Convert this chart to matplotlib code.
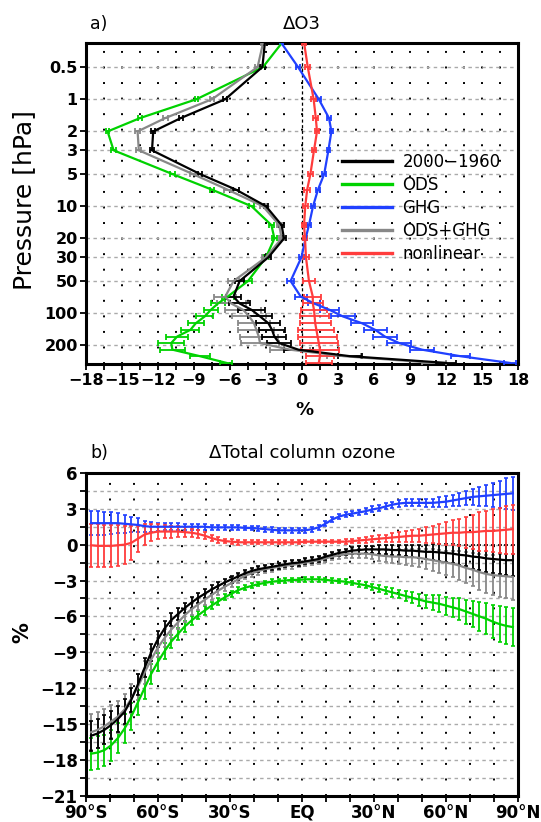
import numpy as np
import matplotlib
matplotlib.use("Agg")
import matplotlib.pyplot as plt
from matplotlib.ticker import FixedLocator, MultipleLocator, NullLocator, FixedFormatter

# ---------------- Panel a data ----------------
P_LEV = [0.3, 0.5, 1, 1.5, 2, 3, 5, 7, 10, 15, 20, 30, 50, 70, 81, 93, 107, 124, 143, 165, 190, 219, 252, 291]

BLACK_A = [-3.1, -3.3, -6.4, -10.1, -12.4, -12.5, -8.5, -5.5, -3.0, -1.7, -1.5, -2.8, -5.2, -5.7, -5.2, -4.2, -3.5, -2.8, -2.5, -2.3, -1.9, -0.3, 4.0, 12.0]
GREEN_A = [-1.7, -3.25, -8.8, -13.5, -16.2, -15.7, -10.8, -7.5, -4.2, -2.55, -2.3, -3.0, -4.5, -6.2, -7.0, -7.6, -8.1, -8.85, -9.3, -10.4, -10.9, -10.8, -8.5, -6.3]
BLUE_A = [-1.7, -0.33, 1.4, 2.25, 2.45, 2.2, 1.85, 1.33, 0.92, 0.58, 0.3, -0.05, -0.95, -0.1, 1.0, 2.3, 3.4, 5.0, 6.1, 6.9, 8.1, 10.0, 13.2, 17.3]
GRAY_A = [-3.25, -3.7, -7.5, -11.4, -13.7, -13.6, -9.1, -6.2, -3.25, -1.9, -1.7, -3.0, -5.7, -6.4, -5.9, -4.9, -4.4, -4.0, -3.8, -3.6, -3.5, -1.0, 3.5, 11.0]
RED_A = [0.18, 0.48, 0.97, 1.15, 1.25, 1.0, 0.7, 0.43, 0.27, 0.17, 0.25, 0.33, 0.58, 0.9, 0.9, 1.0, 1.05, 1.1, 1.2, 1.3, 1.4, 1.5, 1.5, 1.4]

BLACK_A_ERR = [0.15, 0.2, 0.15, 0.15, 0.15, 0.15, 0.2, 0.25, 0.2, 0.2, 0.2, 0.25, 0.35, 0.6, 0.9, 1.1, 1.0, 1.0, 1.1, 1.0, 1.0, 1.2, 1.0, 0.8]
GREEN_A_ERR = [0.1, 0.15, 0.15, 0.15, 0.15, 0.2, 0.2, 0.2, 0.2, 0.2, 0.2, 0.25, 0.3, 0.5, 0.6, 0.6, 0.7, 0.65, 0.75, 0.9, 1.1, 1.05, 0.85, 0.5]
BLUE_A_ERR = [0.1, 0.15, 0.15, 0.15, 0.15, 0.15, 0.15, 0.15, 0.15, 0.15, 0.15, 0.2, 0.3, 0.5, 0.5, 0.8, 1.0, 0.9, 0.95, 1.0, 1.0, 1.0, 0.8, 0.5]
GRAY_A_ERR = [0.15, 0.25, 0.2, 0.2, 0.2, 0.2, 0.25, 0.3, 0.25, 0.2, 0.2, 0.3, 0.45, 0.9, 1.2, 1.5, 1.4, 1.3, 1.5, 1.6, 1.6, 1.7, 1.4, 1.0]
RED_A_ERR = [0.15, 0.2, 0.2, 0.2, 0.2, 0.2, 0.2, 0.25, 0.2, 0.2, 0.2, 0.25, 0.5, 0.7, 0.85, 1.1, 1.2, 1.3, 1.5, 1.6, 1.6, 1.6, 1.2, 1.1]

P_TICKS = [0.5, 1, 2, 3, 5, 10, 20, 30, 50, 100, 200]
P_TICKLABELS = ["0.5", "1", "2", "3", "5", "10", "20", "30", "50", "100", "200"]
X_TICKS_A = [-18, -15, -12, -9, -6, -3, 0, 3, 6, 9, 12, 15, 18]

SERIES_NAMES = ["2000\u22121960", "ODS", "GHG", "ODS+GHG", "nonlinear"]

# ---------------- Panel b data ----------------
LAT_NH = [1.40, 4.19, 6.98, 9.77, 12.56, 15.35, 18.14, 20.93, 23.72, 26.51, 29.30, 32.09,
          34.88, 37.67, 40.46, 43.25, 46.04, 48.84, 51.63, 54.42, 57.21, 60.00, 62.79,
          65.58, 68.37, 71.16, 73.95, 76.74, 79.53, 82.31, 85.10, 87.86]
LAT = [-v for v in reversed(LAT_NH)] + LAT_NH

BLACK_B = [-16.0, -15.8, -15.5, -15.1, -14.6, -14.0, -13.0, -11.7, -10.3, -9.0, -7.9, -7.0, -6.3, -5.8, -5.3, -4.85,
           -4.45, -4.1, -3.75, -3.45, -3.15, -2.9, -2.65, -2.4, -2.2, -2.05, -1.95, -1.85, -1.75, -1.65, -1.55, -1.5,
           -1.4, -1.3, -1.2, -1.0, -0.85, -0.7, -0.6, -0.5, -0.45, -0.4, -0.4, -0.4, -0.4, -0.45, -0.45, -0.5,
           -0.5, -0.55, -0.6, -0.6, -0.65, -0.7, -0.75, -0.85, -0.9, -1.0, -1.05, -1.15, -1.2, -1.25, -1.3, -1.3]
GREEN_B = [-17.5, -17.4, -17.2, -16.8, -16.2, -15.4, -14.4, -13.2, -12.0, -10.8, -9.8, -8.9, -8.1, -7.45, -6.85, -6.35,
           -5.9, -5.5, -5.1, -4.75, -4.4, -4.1, -3.8, -3.6, -3.45, -3.3, -3.2, -3.1, -3.05, -3.0, -2.95, -2.95,
           -2.9, -2.9, -2.9, -2.95, -3.0, -3.05, -3.1, -3.2, -3.3, -3.4, -3.55, -3.7, -3.85, -4.0, -4.15, -4.3,
           -4.45, -4.6, -4.75, -4.85, -4.95, -5.1, -5.25, -5.4, -5.6, -5.8, -6.0, -6.2, -6.45, -6.65, -6.8, -6.9]
BLUE_B = [1.8, 1.8, 1.8, 1.8, 1.8, 1.75, 1.7, 1.65, 1.55, 1.5, 1.5, 1.5, 1.5, 1.5, 1.5, 1.5,
          1.5, 1.5, 1.45, 1.45, 1.45, 1.45, 1.45, 1.4, 1.4, 1.35, 1.3, 1.25, 1.2, 1.2, 1.2, 1.2,
          1.2, 1.3, 1.45, 1.75, 2.1, 2.35, 2.5, 2.6, 2.7, 2.8, 2.95, 3.05, 3.2, 3.35, 3.45, 3.5,
          3.5, 3.5, 3.5, 3.5, 3.55, 3.6, 3.7, 3.8, 3.9, 4.0, 4.05, 4.1, 4.15, 4.2, 4.25, 4.3]
GRAY_B = [-15.7, -15.5, -15.2, -14.8, -14.4, -13.8, -12.9, -11.9, -10.7, -9.6, -8.6, -7.8, -7.1, -6.5, -5.9, -5.4,
          -5.0, -4.6, -4.2, -3.85, -3.5, -3.2, -2.9, -2.6, -2.4, -2.2, -2.05, -1.95, -1.85, -1.75, -1.7, -1.6,
          -1.5, -1.4, -1.3, -1.15, -1.0, -0.9, -0.8, -0.75, -0.75, -0.75, -0.8, -0.9, -0.95, -1.0, -1.0, -1.05,
          -1.05, -1.1, -1.2, -1.3, -1.4, -1.5, -1.6, -1.75, -1.95, -2.1, -2.3, -2.45, -2.55, -2.6, -2.65, -2.7]
RED_B = [-0.05, -0.1, -0.1, -0.1, -0.05, 0.0, 0.15, 0.5, 0.85, 1.0, 1.1, 1.1, 1.1, 1.1, 1.05, 1.0,
         0.9, 0.75, 0.55, 0.4, 0.3, 0.25, 0.2, 0.2, 0.2, 0.2, 0.2, 0.2, 0.2, 0.2, 0.2, 0.2,
         0.25, 0.25, 0.25, 0.25, 0.25, 0.25, 0.25, 0.3, 0.35, 0.4, 0.45, 0.5, 0.55, 0.6, 0.65, 0.7,
         0.75, 0.75, 0.8, 0.85, 0.9, 0.95, 1.0, 1.0, 1.05, 1.05, 1.1, 1.15, 1.15, 1.2, 1.25, 1.3]

BLACK_B_ERR = [1.25, 1.2, 1.2, 1.15, 1.1, 1.05, 1.0, 0.9, 0.8, 0.7, 0.65, 0.6, 0.55, 0.5, 0.45, 0.45,
               0.4, 0.4, 0.35, 0.35, 0.3, 0.3, 0.3, 0.3, 0.25, 0.25, 0.25, 0.25, 0.25, 0.25, 0.25, 0.25,
               0.25, 0.25, 0.25, 0.25, 0.25, 0.25, 0.25, 0.3, 0.3, 0.3, 0.3, 0.35, 0.35, 0.4, 0.4, 0.45,
               0.5, 0.55, 0.6, 0.65, 0.7, 0.75, 0.8, 0.85, 0.9, 1.0, 1.05, 1.1, 1.15, 1.2, 1.25, 1.3]
GREEN_B_ERR = [1.35, 1.35, 1.3, 1.3, 1.25, 1.2, 1.15, 1.05, 0.95, 0.85, 0.75, 0.65, 0.55, 0.5, 0.45, 0.4,
               0.35, 0.35, 0.3, 0.3, 0.25, 0.25, 0.25, 0.2, 0.2, 0.2, 0.2, 0.2, 0.2, 0.2, 0.2, 0.2,
               0.2, 0.2, 0.2, 0.2, 0.2, 0.2, 0.2, 0.2, 0.25, 0.25, 0.25, 0.3, 0.3, 0.35, 0.35, 0.4,
               0.45, 0.5, 0.55, 0.6, 0.7, 0.75, 0.8, 0.9, 1.0, 1.1, 1.2, 1.3, 1.4, 1.5, 1.55, 1.6]
BLUE_B_ERR = [1.0, 1.0, 0.95, 0.9, 0.85, 0.75, 0.65, 0.55, 0.45, 0.4, 0.35, 0.3, 0.3, 0.3, 0.25, 0.25,
              0.25, 0.25, 0.2, 0.2, 0.2, 0.2, 0.2, 0.2, 0.2, 0.2, 0.2, 0.2, 0.2, 0.2, 0.2, 0.2,
              0.2, 0.2, 0.2, 0.2, 0.2, 0.2, 0.2, 0.2, 0.2, 0.25, 0.25, 0.25, 0.25, 0.25, 0.3, 0.3,
              0.3, 0.3, 0.35, 0.35, 0.4, 0.45, 0.5, 0.55, 0.6, 0.7, 0.8, 0.9, 1.0, 1.15, 1.3, 1.4]
GRAY_B_ERR = [1.5, 1.5, 1.45, 1.4, 1.35, 1.3, 1.2, 1.1, 1.0, 0.9, 0.8, 0.75, 0.7, 0.6, 0.55, 0.5,
              0.5, 0.45, 0.45, 0.4, 0.4, 0.35, 0.35, 0.3, 0.3, 0.3, 0.3, 0.3, 0.3, 0.3, 0.3, 0.3,
              0.3, 0.3, 0.3, 0.3, 0.3, 0.3, 0.3, 0.35, 0.35, 0.4, 0.4, 0.45, 0.5, 0.55, 0.6, 0.65,
              0.7, 0.75, 0.8, 0.9, 0.95, 1.0, 1.1, 1.2, 1.3, 1.4, 1.5, 1.6, 1.7, 1.8, 1.85, 1.9]
RED_B_ERR = [1.8, 1.8, 1.75, 1.75, 1.7, 1.6, 1.4, 1.1, 0.85, 0.7, 0.6, 0.55, 0.5, 0.45, 0.4, 0.35,
             0.3, 0.3, 0.25, 0.25, 0.2, 0.2, 0.2, 0.15, 0.15, 0.15, 0.15, 0.15, 0.15, 0.15, 0.15, 0.15,
             0.15, 0.15, 0.15, 0.15, 0.15, 0.15, 0.2, 0.2, 0.2, 0.25, 0.25, 0.3, 0.3, 0.35, 0.4, 0.45,
             0.5, 0.55, 0.65, 0.75, 0.85, 0.95, 1.05, 1.15, 1.3, 1.45, 1.6, 1.7, 1.8, 1.9, 2.0, 2.05]

LAT_TICKS = [-90, -60, -30, 0, 30, 60, 90]
LAT_TICKLABELS = ["90\u00b0S", "60\u00b0S", "30\u00b0S", "EQ", "30\u00b0N", "60\u00b0N", "90\u00b0N"]
Y_TICKS_B = [6, 3, 0, -3, -6, -9, -12, -15, -18, -21]

# ---------------- Style ----------------
C_BLACK = "#000000"
C_GREEN = "#00d200"
C_BLUE = "#2040ff"
C_GRAY = "#888888"
C_RED = "#ff3c3c"

plt.rcParams["font.family"] = ["DejaVu Sans"]
W, H = 541, 822
fig = plt.figure(figsize=(W / 100, H / 100), dpi=100)


def fx(px):
    return px / W


def fy(py):
    return 1 - py / H


# ---------------- Panel a ----------------
ax1 = fig.add_axes([fx(86), fy(364.3), fx(432), 321 / H])
ax1.set_yscale("log")
ax1.set_ylim(300, 0.3)
ax1.set_xlim(-18, 18)

ax1.yaxis.set_major_locator(FixedLocator(P_TICKS))
ax1.yaxis.set_major_formatter(FixedFormatter(P_TICKLABELS))
ax1.yaxis.set_minor_locator(NullLocator())
ax1.xaxis.set_major_locator(FixedLocator(X_TICKS_A))
ax1.xaxis.set_minor_locator(MultipleLocator(1.5))

ax1.yaxis.grid(True, which="major", color="#aaaaaa", linestyle=(0, (2.5, 2.5)), linewidth=1.0)
ax1.xaxis.grid(True, which="both", color="black", linestyle=(0, (1, 7)), linewidth=1.4)
ax1.set_axisbelow(True)
ax1.axvline(0, color="black", linestyle=(0, (2.5, 2)), linewidth=0.9, zorder=1)

series_a = [
    (GREEN_A, GREEN_A_ERR, C_GREEN, SERIES_NAMES[1]),
    (GRAY_A, GRAY_A_ERR, C_GRAY, SERIES_NAMES[3]),
    (BLACK_A, BLACK_A_ERR, C_BLACK, SERIES_NAMES[0]),
    (BLUE_A, BLUE_A_ERR, C_BLUE, SERIES_NAMES[2]),
    (RED_A, RED_A_ERR, C_RED, SERIES_NAMES[4]),
]
handles = {}
for vals, errs, col, name in series_a:
    ax1.errorbar(vals, P_LEV, xerr=errs, color=col, linewidth=1.6, elinewidth=1.3,
                 capsize=2.5, capthick=1.3, zorder=3)
    handles[name] = plt.Line2D([], [], color=col, linewidth=2.4)

ax1.legend([handles[n] for n in SERIES_NAMES], SERIES_NAMES, loc="upper left",
           bbox_to_anchor=(0.578, 0.68), frameon=False, fontsize=12,
           handlelength=3.0, handletextpad=0.6, labelspacing=0.3, borderaxespad=0)

for sp in ax1.spines.values():
    sp.set_linewidth(2.2)
ax1.tick_params(axis="both", which="major", direction="out", length=4, width=1.3, pad=2)
ax1.tick_params(axis="x", which="minor", direction="out", length=4, width=1.3)
for lab in ax1.get_xticklabels() + ax1.get_yticklabels():
    lab.set_fontweight("bold")
    lab.set_fontsize(11.5)

fig.text(fx(99), fy(24), "a)", ha="center", va="center", fontsize=12.5)
fig.text(fx(302), fy(24), "\u0394O3", ha="center", va="center", fontsize=13)
fig.text(fx(304), fy(410), "%", ha="center", va="center", fontsize=13, fontweight="bold")
fig.text(fx(24), fy(200), "Pressure [hPa]", ha="center", va="center", rotation=90, fontsize=18)

# ---------------- Panel b ----------------
ax2 = fig.add_axes([fx(86), fy(795.5), fx(432), (795.5 - 473) / H])
ax2.set_xlim(-90, 90)
ax2.set_ylim(-21, 6)
ax2.xaxis.set_major_locator(FixedLocator(LAT_TICKS))
ax2.xaxis.set_major_formatter(FixedFormatter(LAT_TICKLABELS))
ax2.xaxis.set_minor_locator(MultipleLocator(10))
ax2.yaxis.set_major_locator(FixedLocator(Y_TICKS_B))
ax2.yaxis.set_minor_locator(MultipleLocator(1.5))

ax2.yaxis.grid(True, which="both", color="#aaaaaa", linestyle=(0, (2.5, 2.5)), linewidth=1.0)
ax2.xaxis.grid(True, which="both", color="black", linestyle=(0, (1, 7)), linewidth=1.4)
ax2.set_axisbelow(True)

series_b = [
    (GREEN_B, GREEN_B_ERR, C_GREEN),
    (GRAY_B, GRAY_B_ERR, C_GRAY),
    (BLACK_B, BLACK_B_ERR, C_BLACK),
    (BLUE_B, BLUE_B_ERR, C_BLUE),
    (RED_B, RED_B_ERR, C_RED),
]
for vals, errs, col in series_b:
    ax2.errorbar(LAT, vals, yerr=errs, color=col, linewidth=1.6, elinewidth=1.3,
                 capsize=1.5, capthick=1.2, zorder=3)

for sp in ax2.spines.values():
    sp.set_linewidth(2.2)
ax2.tick_params(axis="both", which="major", direction="out", length=4, width=1.3, pad=2)
ax2.tick_params(axis="both", which="minor", direction="out", length=4, width=1.3)
for lab in ax2.get_xticklabels() + ax2.get_yticklabels():
    lab.set_fontweight("bold")
    lab.set_fontsize(12)

fig.text(fx(99), fy(453), "b)", ha="center", va="center", fontsize=12.5)
fig.text(fx(302), fy(453), "\u0394Total column ozone", ha="center", va="center", fontsize=13)
fig.text(fx(22), fy(633), "%", ha="center", va="center", rotation=90, fontsize=15, fontweight="bold")

fig.savefig("out.png", dpi=100)
